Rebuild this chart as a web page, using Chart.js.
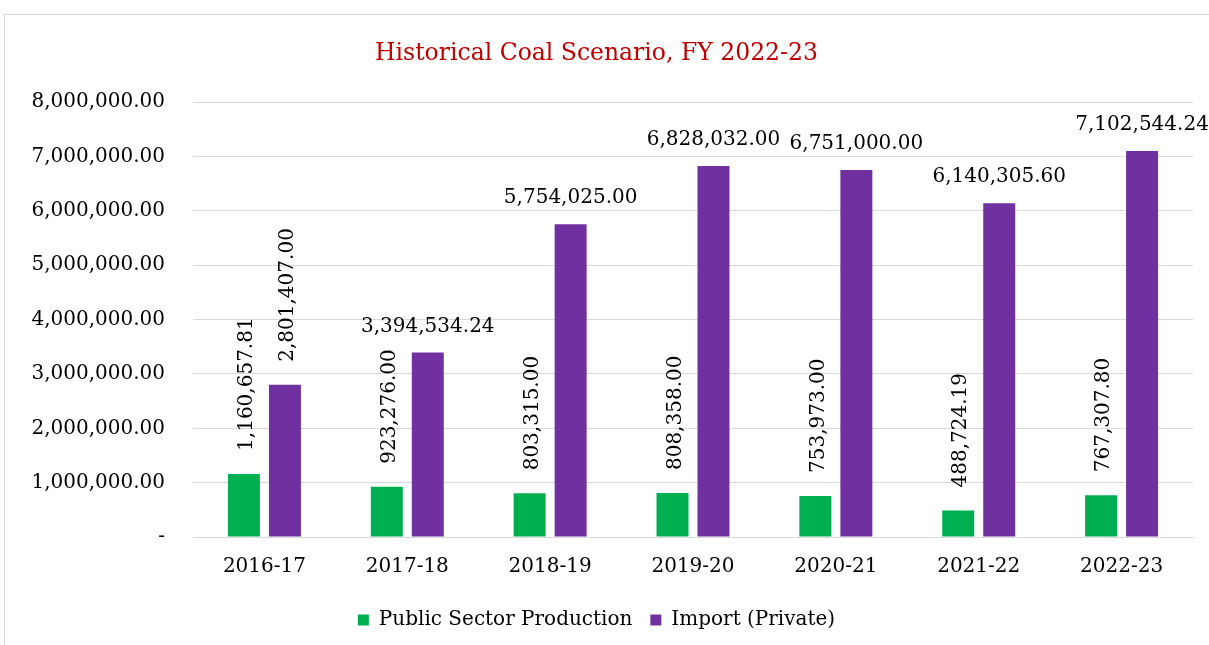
<!DOCTYPE html>
<html lang="en">
<head>
  <meta charset="UTF-8">
  <title>Historical Coal Scenario</title>
  <script src="https://cdn.jsdelivr.net/npm/chart.js@4.4.1/dist/chart.umd.min.js"></script>
  <style>
    body { margin: 0; background: #fff; }
    .frame { position: absolute; left: 4px; top: 14px; width: 1300px; height: 700px;
             border-left: 1px solid #d9d9d9; border-top: 1px solid #d9d9d9; }
    .wrap { position: absolute; left: 0; top: 0; width: 1209px; height: 645px; }
  </style>
</head>
<body>
  <div class="frame"></div>
  <div class="wrap"><canvas id="coal" width="1209" height="645"></canvas></div>

  <script>
  const years = ['2016-17', '2017-18', '2018-19', '2019-20', '2020-21', '2021-22', '2022-23'];
  const publicSector = [1160657.81, 923276.00, 803315.00, 808358.00, 753973.00, 488724.19, 767307.80];
  const importPrivate = [2801407.00, 3394534.24, 5754025.00, 6828032.00, 6751000.00, 6140305.60, 7102544.24];

  const FONT = "'DejaVu Serif', serif";
  const fmt = v => v.toLocaleString('en-US', { minimumFractionDigits: 2, maximumFractionDigits: 2 });

  // value labels: green ones and the first purple one are turned upright
  const barLabels = {
    id: 'barLabels',
    afterDatasetsDraw(chart) {
      const ctx = chart.ctx;
      ctx.save();
      ctx.fillStyle = '#000';
      ctx.font = '20px ' + FONT;
      chart.data.datasets.forEach((ds, di) => {
        chart.getDatasetMeta(di).data.forEach((bar, i) => {
          const text = fmt(ds.data[i]);
          if (di === 0 || i === 0) {
            ctx.save();
            ctx.translate(bar.x + 3, bar.y - 23);
            ctx.rotate(-Math.PI / 2);
            ctx.textAlign = 'left';
            ctx.textBaseline = 'middle';
            ctx.fillText(text, 0, 0);
            ctx.restore();
          } else {
            ctx.textAlign = 'center';
            ctx.textBaseline = 'middle';
            ctx.fillText(text, bar.x, bar.y - 26);
          }
        });
      });
      ctx.restore();
    }
  };

  new Chart(document.getElementById('coal'), {
    type: 'bar',
    data: {
      labels: years,
      datasets: [
        { label: 'Public Sector Production', data: publicSector, backgroundColor: '#00B050' },
        { label: 'Import (Private)', data: importPrivate, backgroundColor: '#7030A0' }
      ]
    },
    options: {
      responsive: false,
      animation: false,
      categoryPercentage: 0.574,
      barPercentage: 0.78,
      layout: { padding: { left: 0, right: 16, top: 0, bottom: 5 } },
      plugins: {
        title: {
          display: true,
          text: 'Historical Coal Scenario, FY 2022-23',
          color: '#C00000',
          font: { family: FONT, size: 23.5, weight: 'normal' },
          padding: { top: 40, bottom: 34 }
        },
        legend: {
          position: 'bottom',
          labels: {
            color: '#000',
            font: { family: FONT, size: 20 },
            boxWidth: 11,
            boxHeight: 11,
            padding: 18
          }
        },
        tooltip: { enabled: false }
      },
      scales: {
        x: {
          grid: { display: false, drawTicks: false },
          border: { color: '#d9d9d9' },
          ticks: { color: '#000', font: { family: FONT, size: 20 }, padding: 18 },
          afterFit: s => { s.height = 55; }
        },
        y: {
          min: 0,
          max: 8000000,
          grid: { color: '#d9d9d9', drawTicks: false },
          border: { display: false },
          ticks: {
            stepSize: 1000000,
            color: '#000',
            font: { family: FONT, size: 20 },
            padding: 28,
            callback: v => v === 0 ? '-' : fmt(v)
          },
          afterFit: s => { s.width = 193; }
        }
      }
    },
    plugins: [barLabels]
  });
  </script>
</body>
</html>
